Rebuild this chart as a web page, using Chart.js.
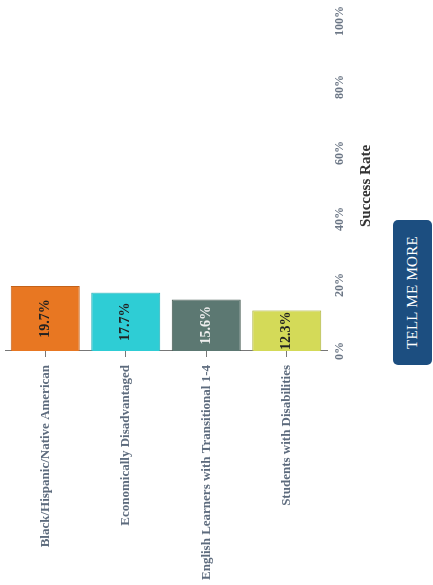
<!DOCTYPE html>
<html>
<head>
<meta charset="utf-8">
<title>Success Rate</title>
<script src="https://cdn.jsdelivr.net/npm/chart.js@4.4.1/dist/chart.umd.min.js"></script>
<style>
  html, body { margin: 0; padding: 0; background: #fff; overflow: hidden; }
  /* the whole card is laid out flat, then turned a quarter turn counter-clockwise */
  #page {
    position: absolute; left: 0; top: 0;
    width: 585px; height: 433px;
    transform-origin: 0 0;
    transform: translateY(585px) rotate(-90deg);
  }
  #chartBox { position: absolute; left: 0; top: 0; width: 585px; height: 385px; }
  #more {
    position: absolute; left: 220px; top: 393px;
    width: 145px; height: 39px;
    background: #1c4e80; color: #fff;
    border: none; border-radius: 5px;
    font: 15px "Liberation Serif", "Times New Roman", serif;
    letter-spacing: 0.3px;
  }
</style>
</head>
<body>
<div id="page">
  <div id="chartBox"><canvas id="chart"></canvas></div>
  <button id="more">TELL ME MORE</button>
</div>
<script>
const categories = [
  'Black/Hispanic/Native American',
  'Economically Disadvantaged',
  'English Learners with Transitional 1-4',
  'Students with Disabilities'
];
const successRates = [19.7, 17.7, 15.6, 12.3];
const barColors = ['#E87722', '#2ECDD5', '#5C7872', '#D4DA58'];
const barBorders = ['#C4621A', '#25AEB5', '#43574F', '#AEB446'];
const labelColors = ['#222', '#222', '#eee', '#222'];
const tickStep = 20;

const serif = '"Liberation Serif", "Times New Roman", serif';

// value printed in the middle of each bar
const barLabels = {
  id: 'barLabels',
  afterDatasetsDraw(chart) {
    const ctx = chart.ctx;
    const meta = chart.getDatasetMeta(0);
    ctx.save();
    ctx.font = 'bold 14px ' + serif;
    ctx.textAlign = 'center';
    ctx.textBaseline = 'middle';
    meta.data.forEach((bar, i) => {
      const p = bar.getProps(['x', 'y', 'base'], true);
      ctx.fillStyle = labelColors[i];
      ctx.fillText(successRates[i].toFixed(1) + '%', (p.x + p.base) / 2, p.y);
    });
    ctx.restore();
  }
};

new Chart(document.getElementById('chart'), {
  type: 'bar',
  data: {
    labels: categories,
    datasets: [{
      data: successRates,
      backgroundColor: barColors,
      borderColor: barBorders,
      borderWidth: 1,
      categoryPercentage: 0.86,
      barPercentage: 1
    }]
  },
  options: {
    indexAxis: 'y',
    responsive: true,
    maintainAspectRatio: false,
    animation: false,
    layout: { padding: { top: 5, right: 13, left: 0, bottom: 0 } },
    plugins: {
      legend: { display: false },
      tooltip: { enabled: false }
    },
    scales: {
      y: {
        grid: { display: true, drawOnChartArea: false, drawTicks: true, tickLength: 6, offset: false, color: '#777' },
        border: { display: true, color: '#777' },
        ticks: { color: '#5d6b7d', padding: 8, font: { family: serif, size: 13, weight: 'bold' } },
        afterFit(scale) {
          scale.width = 234;
          scale.paddingTop = 0;
          scale.paddingBottom = 0;
        }
      },
      x: {
        min: 0,
        max: 100,
        grid: { display: false, drawTicks: false },
        border: { display: false },
        ticks: {
          stepSize: tickStep,
          color: '#6b7685',
          padding: 6,
          font: { family: serif, size: 12, weight: 'bold' },
          callback: v => v + '%'
        },
        title: {
          display: true,
          text: 'Success Rate',
          color: '#333',
          font: { family: serif, size: 15, weight: 'bold' },
          padding: { top: 4, bottom: 10 }
        },
        afterFit(scale) { scale.height = 58; }
      }
    }
  },
  plugins: [barLabels]
});
</script>
</body>
</html>
